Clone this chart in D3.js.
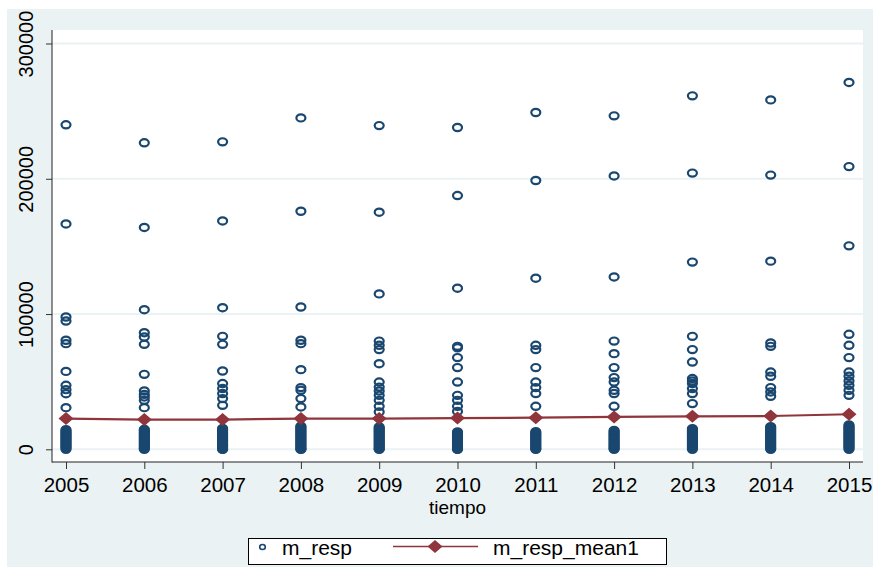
<!DOCTYPE html>
<html>
<head>
<meta charset="utf-8">
<script src="https://cdn.jsdelivr.net/npm/d3@7"></script>
<style>
  html, body { margin: 0; padding: 0; background: #ffffff; }
  svg { display: block; font-family: "Liberation Sans", Arial, sans-serif; }
</style>
</head>
<body>
<svg id="chart" width="873" height="567"></svg>
<script>
const years = [2005, 2006, 2007, 2008, 2009, 2010, 2011, 2012, 2013, 2014, 2015];
const yTicks = [0, 100000, 200000, 300000];

// m_resp observations, one list per year (same order as years)
const respValues = [
  [239900, 166600, 97800, 94800, 80600, 78100, 57600, 47300, 44100, 41100, 30800,
    14500, 13500, 12600, 11700, 10800, 9900, 9000, 8100, 7200, 6300, 5400, 4500, 3600, 2700, 1800, 900, 0],
  [226600, 164000, 103200, 86200, 83000, 77600, 55400, 43100, 40600, 38700, 36200, 30800,
    14800, 14000, 13100, 12200, 11300, 10400, 9500, 8600, 7700, 6800, 5900, 5000, 4100, 3200, 2300, 1400, 500, 0],
  [227300, 168800, 104700, 83500, 77600, 57900, 48600, 44900, 41200, 37500, 32500,
    15500, 14600, 13700, 12800, 11900, 11000, 10100, 9200, 8300, 7400, 6500, 5600, 4700, 3800, 2900, 2000, 1100, 200, 0],
  [245000, 176000, 105200, 80600, 78100, 58900, 45600, 43600, 37500, 31300,
    17200, 16300, 15400, 14500, 13600, 12700, 11800, 10900, 10000, 9100, 8200, 7300, 6400, 5500, 4600, 3700, 2800, 1900, 1000, 100, 0],
  [239300, 175300, 114900, 80000, 76900, 73700, 63300, 49700, 46000, 43100, 39900, 36200, 31800, 27600,
    16500, 15600, 14700, 13800, 12900, 12000, 11100, 10200, 9300, 8400, 7500, 6600, 5700, 4800, 3900, 3000, 2100, 1200, 300, 0],
  [237900, 187600, 119100, 76100, 75000, 67800, 60400, 49700, 39900, 36200, 31800, 28000,
    12800, 11900, 11000, 10100, 9200, 8300, 7400, 6500, 5600, 4700, 3800, 2900, 2000, 1100, 200, 0],
  [249000, 198700, 126500, 76900, 73700, 60400, 49700, 45600, 41200, 31800,
    13000, 12100, 11200, 10300, 9400, 8500, 7600, 6700, 5800, 4900, 4000, 3100, 2200, 1300, 400, 0],
  [246500, 202100, 127400, 80000, 70700, 60400, 53000, 49700, 43600, 41200, 31800,
    14000, 13100, 12200, 11300, 10400, 9500, 8600, 7700, 6800, 5900, 5000, 4100, 3200, 2300, 1400, 500, 0],
  [261300, 204200, 138400, 83500, 73700, 64500, 52300, 50500, 48600, 44900, 41200, 33800,
    15300, 14400, 13500, 12600, 11700, 10800, 9900, 9000, 8100, 7200, 6300, 5400, 4500, 3600, 2700, 1800, 900, 0],
  [258300, 202700, 139100, 78600, 76100, 57100, 54000, 45600, 42400, 39200,
    16800, 15900, 15000, 14100, 13200, 12300, 11400, 10500, 9600, 8700, 7800, 6900, 6000, 5100, 4200, 3300, 2400, 1500, 600, 0],
  [271200, 209000, 150400, 85000, 76900, 67800, 57100, 54000, 50500, 47300, 43600, 39900,
    18000, 17100, 16200, 15300, 14400, 13500, 12600, 11700, 10800, 9900, 9000, 8100, 7200, 6300, 5400, 4500, 3600, 2700, 1800, 900, 0]
];

// m_resp_mean1, one value per year
const meanValues = [22700, 22000, 22000, 22700, 22700, 23100, 23400, 23900, 24400, 24600, 25900];

const navy = '#1a476f';
const maroon = '#90353b';
const bg = '#eaf2f3';

const svg = d3.select('#chart');
const plot = { left: 52, right: 863, top: 30, bottom: 462 };

const x = d3.scaleLinear().domain([2005, 2015]).range([66, 849]);
const y = d3.scaleLinear().domain([0, 300000]).range([449.3, 43.5]);

svg.append('rect').attr('x', 7).attr('y', 9).attr('width', 866).attr('height', 558).attr('fill', bg);
svg.append('rect')
  .attr('x', plot.left).attr('y', plot.top)
  .attr('width', plot.right - plot.left).attr('height', plot.bottom - plot.top)
  .attr('fill', '#ffffff');

// grid lines
svg.append('g')
  .selectAll('line')
  .data(yTicks)
  .join('line')
  .attr('x1', plot.left).attr('x2', plot.right)
  .attr('y1', (d) => y(d)).attr('y2', (d) => y(d))
  .attr('stroke', bg).attr('stroke-width', 2);

// axes
const yAxis = svg.append('g')
  .attr('transform', `translate(${plot.left},0)`)
  .call(d3.axisLeft(y).tickValues(yTicks).tickSize(6).tickPadding(0).tickFormat(d3.format('d')));
yAxis.select('.domain').remove();
yAxis.selectAll('.tick line').attr('stroke', '#333');
yAxis.selectAll('.tick text')
  .attr('x', null).attr('dy', null)
  .attr('text-anchor', 'middle')
  .attr('transform', 'translate(-19,0) rotate(-90)')
  .attr('font-size', 20).attr('fill', '#000');

const xAxis = svg.append('g')
  .attr('transform', `translate(0,${plot.bottom})`)
  .call(d3.axisBottom(x).tickValues(years).tickSize(7).tickFormat(d3.format('d')));
xAxis.select('.domain').remove();
xAxis.selectAll('.tick line').attr('stroke', '#333');
xAxis.selectAll('.tick text')
  .attr('y', 30).attr('dy', null)
  .attr('font-size', 20.5).attr('fill', '#000');

svg.append('line')
  .attr('x1', plot.left).attr('x2', plot.left)
  .attr('y1', plot.top).attr('y2', plot.bottom + 0.5)
  .attr('stroke', '#222').attr('stroke-width', 1);
svg.append('line')
  .attr('x1', plot.left).attr('x2', plot.right)
  .attr('y1', plot.bottom).attr('y2', plot.bottom)
  .attr('stroke', '#222').attr('stroke-width', 1);

svg.append('text')
  .attr('x', (plot.left + plot.right) / 2).attr('y', 514)
  .attr('text-anchor', 'middle')
  .attr('font-size', 19)
  .text('tiempo');

// scatter points
const points = years.flatMap((yr, i) => respValues[i].map((v) => ({ year: yr, value: v })));
svg.append('g')
  .selectAll('ellipse')
  .data(points)
  .join('ellipse')
  .attr('cx', (d) => x(d.year))
  .attr('cy', (d) => y(d.value))
  .attr('rx', 4.5).attr('ry', 3.6)
  .attr('fill', 'none')
  .attr('stroke', navy)
  .attr('stroke-width', 2.2);

// mean line with diamonds
const line = d3.line().x((d, i) => x(years[i])).y((d) => y(d));
svg.append('path')
  .datum(meanValues)
  .attr('d', line)
  .attr('fill', 'none')
  .attr('stroke', maroon)
  .attr('stroke-width', 2.2);

const diamond = 'M0,-6.5L7.5,0L0,6.5L-7.5,0Z';
svg.append('g')
  .selectAll('path')
  .data(meanValues)
  .join('path')
  .attr('transform', (d, i) => `translate(${x(years[i])},${y(d)})`)
  .attr('d', diamond)
  .attr('fill', maroon);

// legend
const legend = svg.append('g');
legend.append('rect')
  .attr('x', 248.5).attr('y', 538.5).attr('width', 418).attr('height', 26)
  .attr('fill', '#ffffff').attr('stroke', '#000').attr('stroke-width', 1);
legend.append('ellipse')
  .attr('cx', 262.5).attr('cy', 547).attr('rx', 2.8).attr('ry', 2.5)
  .attr('fill', 'none').attr('stroke', navy).attr('stroke-width', 1.6);
legend.append('text')
  .attr('x', 282).attr('y', 555)
  .attr('font-size', 21)
  .text('m_resp');
legend.append('line')
  .attr('x1', 393).attr('x2', 478).attr('y1', 546.5).attr('y2', 546.5)
  .attr('stroke', maroon).attr('stroke-width', 1.6);
legend.append('path')
  .attr('transform', 'translate(435,546.5)')
  .attr('d', diamond)
  .attr('fill', maroon);
legend.append('text')
  .attr('x', 493).attr('y', 555)
  .attr('font-size', 21)
  .text('m_resp_mean1');
</script>
</body>
</html>
